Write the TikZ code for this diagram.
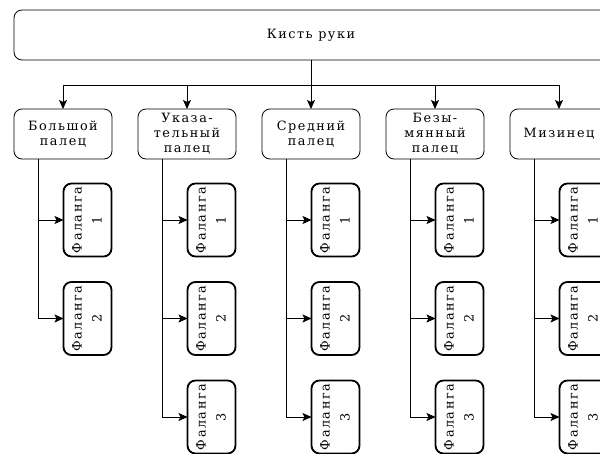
\documentclass[tikz,border=0pt]{standalone}
\usepackage{graphicx}
\usepackage{fontspec}
\setmainfont{DejaVu Serif}[LetterSpace=12]
\usetikzlibrary{arrows.meta}
\newcommand{\phtext}[1]{\rotatebox{90}{\begin{tabular}{@{}c@{}}Фаланга\\#1\end{tabular}}}
\begin{document}
\begin{tikzpicture}[x=1pt,y=1pt,
  every node/.style={inner sep=0pt, outer sep=0pt},
  topbox/.style={draw, line width=0.8pt, rounded corners=8pt, minimum width=594pt, minimum height=50pt, font=\fontsize{12.8}{15}\selectfont},
  fingerbox/.style={draw, line width=0.8pt, rounded corners=8pt, minimum width=98pt, minimum height=50pt, align=center, font=\fontsize{12.8}{15}\selectfont},
  phbox/.style={draw, line width=1.8pt, rounded corners=8pt, minimum width=48pt, minimum height=73pt, font=\fontsize{12.8}{20}\selectfont},
  conn/.style={line width=0.8pt},
  arr/.style={conn, -{Stealth[length=9pt,width=8pt,inset=2pt]}}
]
\clip (0,0) rectangle (600,-453);
\node[topbox] (hand) at (311,-35) {Кисть руки};
\coordinate (bus) at (311,-85);
\draw[conn] (hand.south) -- (bus);
\foreach \i/\cx/\txt/\n in {1/63/{Большой\\палец}/2, 2/187/{Указа-\\тельный\\палец}/3, 3/311/{Средний\\палец}/3, 4/435/{Безы-\\мянный\\палец}/3, 5/559/{Мизинец}/3}{
  \node[fingerbox] (f\i) at (\cx,-134) {\txt};
  \draw[arr] (f\i.north |- bus) -- (f\i.north);
  \coordinate (s\i) at ([xshift=-25pt]f\i.south);
  \foreach \j in {1,...,\n}{
    \pgfmathsetmacro\py{-220-98.5*(\j-1)}
    \node[phbox] (p\i\j) at (\cx+24.5,\py) {\phtext{\j}};
    \draw[arr] (s\i) |- (p\i\j.west);
  }
}
\draw[conn] (f1.north |- bus) -- (f5.north |- bus);
\end{tikzpicture}
\end{document}
